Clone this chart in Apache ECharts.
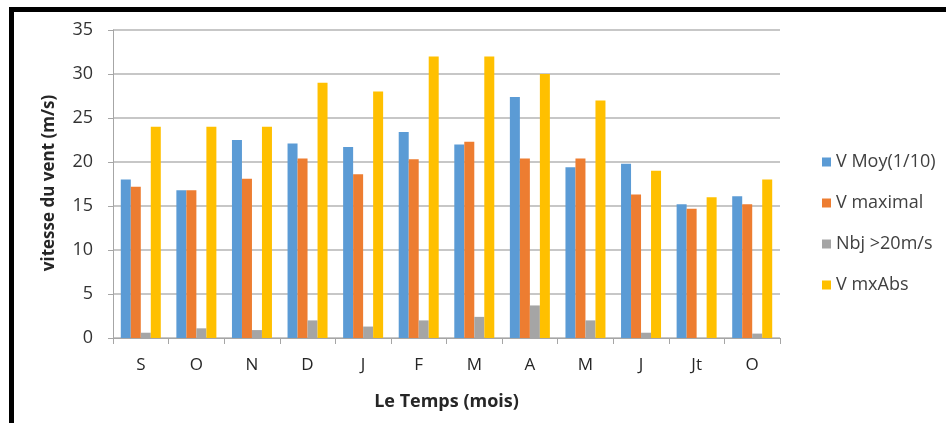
<!DOCTYPE html>
<html>
<head>
<meta charset="utf-8">
<script src="https://cdn.jsdelivr.net/npm/echarts@6/dist/echarts.min.js"></script>
<style>
  html, body { margin: 0; padding: 0; background: #fff; }
  #frame {
    position: absolute; left: 9px; top: 7px; right: 0; bottom: 0;
    border-top: 5px solid #000; border-left: 5px solid #000;
  }
  #chart { position: absolute; left: 0; top: 0; width: 946px; height: 423px; }
</style>
</head>
<body>
<div id="frame"></div>
<div id="chart"></div>
<script>
// mois (Septembre -> Octobre)
var months = ["S", "O", "N", "D", "J", "F", "M", "A", "M", "J", "Jt", "O"];
var vMoy = [18, 16.8, 22.5, 22.1, 21.7, 23.4, 22, 27.4, 19.4, 19.8, 15.2, 16.1];
var vMaximal = [17.2, 16.8, 18.1, 20.4, 18.6, 20.3, 22.3, 20.4, 20.4, 16.3, 14.7, 15.2];
var nbj = [0.6, 1.1, 0.9, 2, 1.3, 2, 2.4, 3.7, 2, 0.6, 0, 0.5];
var vMxAbs = [24, 24, 24, 29, 28, 32, 32, 30, 27, 19, 16, 18];
var seriesNames = ["V Moy(1/10)", "V maximal", "Nbj >20m/s", "V mxAbs"];
var colors = ["#5B9BD5", "#ED7D31", "#A5A5A5", "#FFC000"];

var chartDom = document.getElementById("chart");
var myChart = echarts.init(chartDom);
var font = "'Open Sans', 'Liberation Sans', sans-serif";

function bar(name, data) {
  return {
    name: name,
    type: "bar",
    data: data,
    barWidth: 10,
    barGap: "0%",
  };
}

var option = {
  animation: false,
  color: colors,
  textStyle: { fontFamily: font },
  grid: { left: 113, right: 166, top: 30, bottom: 85 },
  legend: {
    orient: "vertical",
    left: 817,
    top: 148,
    itemWidth: 9,
    itemHeight: 9,
    itemGap: 23,
    icon: "rect",
    textStyle: { fontSize: 18, color: "#404040", fontFamily: font },
    data: seriesNames,
  },
  xAxis: {
    type: "category",
    data: months,
    axisLine: { lineStyle: { color: "#a6a6a6", width: 1 } },
    axisTick: { show: true, length: 6, lineStyle: { color: "#a6a6a6" } },
    axisLabel: { fontSize: 17, color: "#262626", margin: 19 },
    name: "Le Temps (mois)",
    nameLocation: "middle",
    nameGap: 55,
    nameTextStyle: { fontSize: 18, fontWeight: "bold", color: "#262626" },
  },
  yAxis: {
    type: "value",
    min: 0,
    max: 35,
    interval: 5,
    axisLine: { show: true, lineStyle: { color: "#a6a6a6", width: 1 } },
    axisTick: { show: true, length: 5, lineStyle: { color: "#a6a6a6" } },
    axisLabel: { fontSize: 18, color: "#333333", margin: 20 },
    splitLine: { lineStyle: { color: "#b4b4b4", width: 1.5 } },
  },
  graphic: [
    {
      type: "text",
      x: 49,
      y: 183,
      rotation: Math.PI / 2,
      style: {
        text: "vitesse du vent (m/s)",
        font: "bold 17px " + font,
        fill: "#262626",
        textAlign: "center",
        textVerticalAlign: "middle",
      },
    },
  ],
  series: [
    bar(seriesNames[0], vMoy),
    bar(seriesNames[1], vMaximal),
    bar(seriesNames[2], nbj),
    bar(seriesNames[3], vMxAbs),
  ],
};
option && myChart.setOption(option);
</script>
</body>
</html>
